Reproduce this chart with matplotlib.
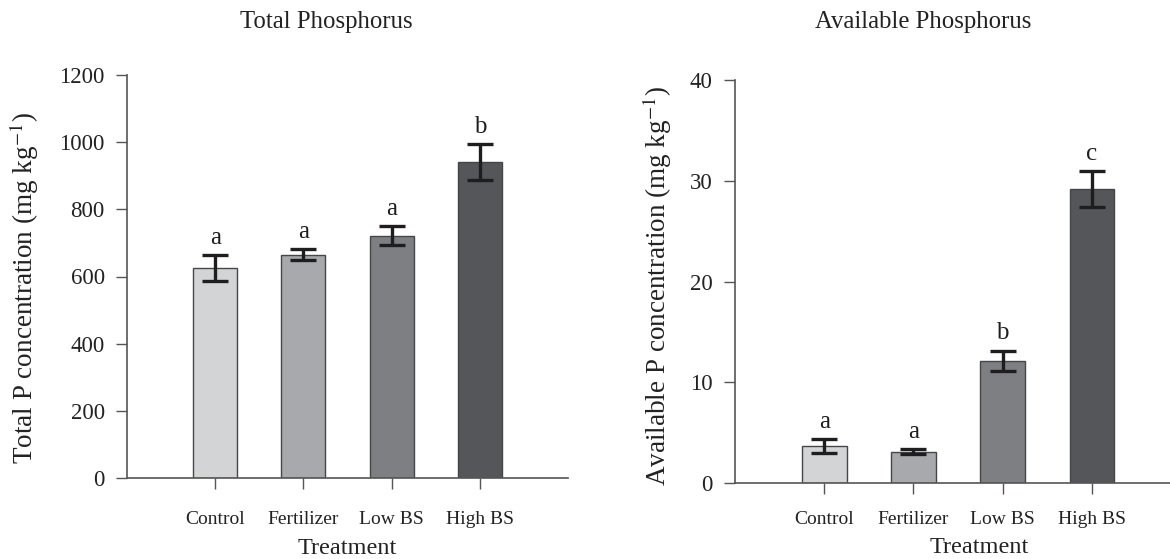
import matplotlib
matplotlib.use("Agg")
import matplotlib.pyplot as plt

plt.rcParams["font.family"] = ["Liberation Serif", "DejaVu Serif"]
plt.rcParams["mathtext.fontset"] = "stix"

# Soil phosphorus by treatment (mean, SE, significance letter)
treatments = ["Control", "Fertilizer", "Low BS", "High BS"]
bar_colors = ["#d3d4d6", "#a8a9ad", "#7e7f83", "#55565a"]

total_p = [626, 665, 722, 941]
total_p_err = [38, 16, 27, 54]
total_p_letters = ["a", "a", "a", "b"]

avail_p = [3.65, 3.1, 12.15, 29.2]
avail_p_err = [0.68, 0.25, 1.0, 1.8]
avail_p_letters = ["a", "a", "b", "c"]

fig = plt.figure(figsize=(11.7, 5.59), dpi=100)
ax1 = fig.add_axes([127 / 1170, 1 - 478 / 559, 441 / 1170, 403 / 559])
ax2 = fig.add_axes([735 / 1170, 1 - 483 / 559, 446 / 1170, 403 / 559])


def draw_panel(ax, values, errs, letters, ymax, ystep, letter_gap, ylabel,
               xpad, xlabel_pos):
    x = range(len(treatments))
    ax.bar(x, values, width=0.5, color=bar_colors, edgecolor="#45464a",
           linewidth=1.0, zorder=2)
    ax.errorbar(x, values, yerr=errs, fmt="none", ecolor="#1e1e1e",
                elinewidth=2.4, capsize=9.5, capthick=2.4, zorder=3)
    for xi, v, e, lab in zip(x, values, errs, letters):
        ax.text(xi, v + e + letter_gap, lab, ha="center", va="bottom",
                fontsize=18, color="#1e1e1e")

    ax.set_xlim(-1, 4)
    ax.set_ylim(0, ymax)
    ax.set_yticks(range(0, ymax + 1, ystep))
    ax.set_xticks(list(x))
    ax.set_xticklabels(treatments)

    for side in ["top", "right"]:
        ax.spines[side].set_visible(False)
    for side in ["left", "bottom"]:
        ax.spines[side].set_color("#555555")
        ax.spines[side].set_linewidth(1.2)
    ax.tick_params(axis="both", direction="out", length=8, width=1.0,
                   color="#555555", labelcolor="#222222")
    ax.tick_params(axis="x", pad=xpad, labelsize=14)
    ax.tick_params(axis="y", pad=8, labelsize=16.5)

    ax.set_ylabel(ylabel, fontsize=19.5, color="#222222")
    ax.set_xlabel("Treatment", fontsize=17.5, color="#222222")
    ax.xaxis.set_label_coords(*xlabel_pos)


draw_panel(ax1, total_p, total_p_err, total_p_letters, 1200, 200, 18,
           r"Total P concentration (mg kg$^{-1}$)", 16, (0.50, -0.15))
ax1.yaxis.set_label_coords(-0.195, 0.47)

draw_panel(ax2, avail_p, avail_p_err, avail_p_letters, 40, 10, 0.6,
           r"Available P concentration (mg kg$^{-1}$)", 12, (0.548, -0.133))
ax2.yaxis.set_label_coords(-0.137, 0.49)

# Panel titles
fig.text(326 / 1170, 1 - 22 / 559, "Total Phosphorus", ha="center",
         va="center", fontsize=17.8, color="#222222")
fig.text(923 / 1170, 1 - 22 / 559, "Available Phosphorus", ha="center",
         va="center", fontsize=17.8, color="#222222")

fig.savefig("out.png", dpi=100)
